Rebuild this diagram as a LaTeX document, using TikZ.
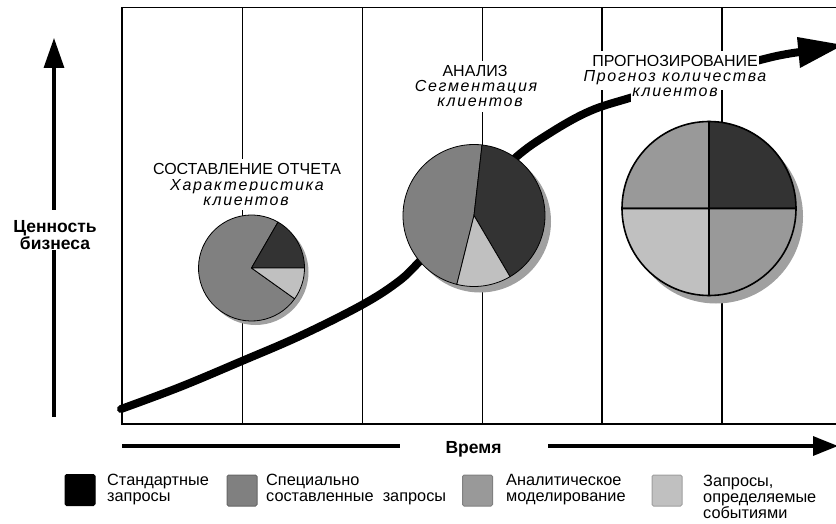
\documentclass[tikz,border=0pt]{standalone}
\usepackage{fontspec}
\setmainfont{Liberation Sans}
\newfontfamily\trackedfont[LetterSpace=10.5]{Liberation Sans}
\usetikzlibrary{arrows.meta,calc}

\definecolor{sliceDark}{HTML}{333333}
\definecolor{sliceAdhoc}{HTML}{808080}
\definecolor{sliceModel}{HTML}{999999}
\definecolor{sliceEvent}{HTML}{C0C0C0}
\definecolor{pieShadow}{HTML}{A0A0A0}

\tikzset{
  frameline/.style={line width=1.6pt},
  gridline/.style={line width=1.3pt},
  valuecurve/.style={line width=8pt, line cap=round, line join=round},
  phasehead/.style={font=\fontsize{16}{15}\selectfont, fill=white, inner xsep=1pt, inner ysep=5pt, anchor=base},
  phasesub/.style={font={\trackedfont\itshape\fontsize{16}{15}\selectfont}, fill=white, inner xsep=1pt, inner ysep=5pt, anchor=base},
  axislabel/.style={font=\bfseries\fontsize{17.5}{15}\selectfont, inner sep=0pt},
  axisline/.style={line width=3.2pt},
  slice/.style={draw=black, line width=0.8pt, line join=round},
  legendbox/.style={minimum width=30pt, minimum height=31pt, inner sep=0pt, rounded corners=1.5pt, line width=1pt},
  legendtext/.style={font=\fontsize{16.3}{16}\selectfont, align=left, anchor=north west, inner sep=0pt},
}

% one pie sector: centre, radius, start angle, end angle, colour
\newcommand\pieslice[5]{%
  \filldraw[slice, fill=#5] (#1) -- ++(#3:#2) arc[start angle=#3, end angle=#4, radius=#2] -- cycle;}

\begin{document}
\begin{tikzpicture}[x=1pt,y=-1pt]
\useasboundingbox (0,0) rectangle (836,524);
\clip (0,0) rectangle (836,524);

% frame and phase grid
\draw[frameline] (845,7.5) -- (122,7.5) -- (122,424) -- (845,424);
\foreach \gx in {242.5,362.5,482.5,602,722}
  \draw[gridline] (\gx,7.5) -- (\gx,424);

% business value curve
\draw[valuecurve] plot[smooth, tension=0.6] coordinates {
  (121,409) (180,387) (242,361) (300,336) (360,306) (395,284) (418,263)
  (470,205) (514,159) (550,133) (590,111) (633,97) (700,77) (768,58) (800,52)};
\fill (797,37) -- (843,45) -- (800,68) -- cycle;

% phase captions
\node[phasehead] (repHead) at (247,175) {СОСТАВЛЕНИЕ ОТЧЕТА};
\node[phasesub]  (repSubA) at (247,190) {Характеристика};
\node[phasesub]  (repSubB) at (246,205) {клиентов};

\node[phasehead] (anaHead) at (475,77) {АНАЛИЗ};
\node[phasesub]  (anaSubA) at (476,92) {Сегментация};
\node[phasesub]  (anaSubB) at (480,107) {клиентов};

\node[phasehead] (fcHead) at (675,67) {ПРОГНОЗИРОВАНИЕ};
\node[phasesub]  (fcSubA) at (675,82) {Прогноз количества};
\node[phasesub]  (fcSubB) at (675,97) {клиентов};

% pie centres
\coordinate (pieA) at (251.5,268);
\coordinate (pieB) at (474,215.5);
\coordinate (pieC) at (709,208.5);

% shadows
\fill[pieShadow] ($(pieA)+(4,4)$) circle[radius=53];
\fill[pieShadow] ($(pieB)+(6,6)$) circle[radius=71];
\fill[pieShadow] ($(pieC)+(7,8)$) circle[radius=87];

% reporting pie
\pieslice{pieA}{53}{35.5}{300}{sliceAdhoc}
\pieslice{pieA}{53}{-60}{0}{sliceDark}
\pieslice{pieA}{53}{0}{35.5}{sliceEvent}

% analysis pie
\pieslice{pieB}{71}{104}{276.5}{sliceAdhoc}
\pieslice{pieB}{71}{-83.5}{59.5}{sliceDark}
\pieslice{pieB}{71}{59.5}{104}{sliceEvent}

% forecasting pie
\begin{scope}[slice/.append style={line width=1.6pt}]
\pieslice{pieC}{87}{-90}{0}{sliceDark}
\pieslice{pieC}{87}{-180}{-90}{sliceModel}
\pieslice{pieC}{87}{90}{180}{sliceEvent}
\pieslice{pieC}{87}{0}{90}{sliceModel}
\end{scope}

% value axis
\node[axislabel, align=center, anchor=north] (valLab) at (55,220) {Ценность\\бизнеса};
\coordinate (valBot) at (54,417);
\coordinate (valTop) at (54,38);
\draw[axisline] (valLab.south -| valBot) -- (valBot);
\draw[axisline, -{Triangle[length=30pt,width=20pt]}] ($(valLab.north -| valBot)+(0,-10)$) -- (valTop);

% time axis
\node[axislabel, anchor=base] (timeLab) at (473.5,453) {Время};
\coordinate (timeStart) at (122,446);
\coordinate (timeGapL) at (400,446);
\coordinate (timeGapR) at (548,446);
\coordinate (timeEnd) at (838,446);
\draw[axisline] (timeStart) -- (timeGapL);
\draw[axisline, -{Triangle[length=25pt,width=19pt]}] (timeGapR) -- (timeEnd);

% legend
\node[legendbox, fill=black, draw=black] (keyStd) at (80,490) {};
\node[legendtext] (keyStdTxt) at (107,474) {Стандартные\\запросы};
\node[legendbox, fill=sliceAdhoc, draw=black!60] (keyAdhoc) at (242,490.5) {};
\node[legendtext] (keyAdhocTxt) at (266,474) {Специально\\составленные\ \ запросы};
\node[legendbox, fill=sliceModel, draw=black!50] (keyModel) at (477.5,490.5) {};
\node[legendtext] (keyModelTxt) at (506,474) {Аналитическое\\моделирование};
\node[legendbox, fill=sliceEvent, draw=black!38] (keyEvent) at (667,490.5) {};
\node[legendtext] (keyEventTxt) at (703,475) {Запросы,\\определяемые\\событиями};
\end{tikzpicture}
\end{document}
